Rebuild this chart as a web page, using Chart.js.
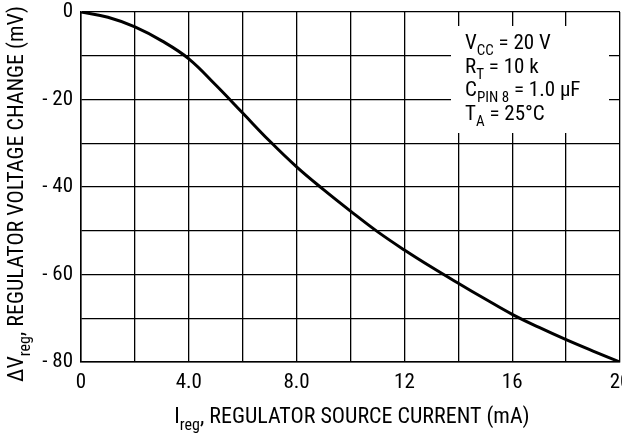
<!DOCTYPE html>
<html>
<head>
<meta charset="utf-8">
<script src="https://cdn.jsdelivr.net/npm/chart.js@4.4.1/dist/chart.umd.min.js"></script>
<style>
  html, body { margin: 0; padding: 0; background: #fff; }
  #wrap { width: 622px; height: 434px; position: relative; }
</style>
</head>
<body>
<div id="wrap"><canvas id="reg_chart" width="622" height="434"></canvas></div>
<script>
// regulator source current (mA)
const currentMA = [0, 1, 2, 3, 4, 5, 6, 7, 8, 9, 10, 11, 12, 13, 14, 15, 16, 17, 18, 19, 20];
// regulator voltage change (mV)
const deltaVmV = [0, -1.2, -3.4, -6.6, -10.7, -16.7, -23.1, -29.5, -35.4, -40.6, -45.5,
                  -50.2, -54.4, -58.3, -62, -65.6, -69.1, -72.1, -74.9, -77.5, -80];
// tick labels, one per grid line (every 2 mA / every 10 mV)
const xTickLabels = ['0', '', '4.0', '', '8.0', '', '12', '', '16', '', '20'];
const yTickLabels = ['0', '', '- 20', '', '- 40', '', '- 60', '', '- 80'];

const FONT = "'Liberation Sans Narrow', 'Arial Narrow', 'Roboto Condensed', sans-serif";

// draws text with subscript parts, parts = [[text, isSub], ...]
function drawRich(ctx, parts, x, y, size, align) {
    const subSize = Math.round(size * 0.72);
    let total = 0;
    parts.forEach(p => {
        ctx.font = (p[1] ? subSize : size) + 'px ' + FONT;
        total += ctx.measureText(p[0]).width;
    });
    let cx = x;
    if (align === 'center') cx = x - total / 2;
    parts.forEach(p => {
        ctx.font = (p[1] ? subSize : size) + 'px ' + FONT;
        ctx.fillText(p[0], cx, p[1] ? y + size * 0.3 : y);
        cx += ctx.measureText(p[0]).width;
    });
}

const notes = [
    [['V'], ['CC', true], [' = 20 V']],
    [['R'], ['T', true], [' = 10 k']],
    [['C'], ['PIN 8', true], [' = 1.0 \u03bcF']],
    [['T'], ['A', true], [' = 25\u00b0C']]
];

const textPlugin = {
    id: 'textPlugin',
    beforeDatasetsDraw(chart) {
        const ctx = chart.ctx;
        ctx.save();
        // white box behind the conditions
        ctx.fillStyle = '#fff';
        ctx.fillRect(451, 26, 158, 107);
        ctx.fillStyle = '#000';
        ctx.textBaseline = 'alphabetic';
        notes.forEach((line, i) => {
            drawRich(ctx, line, 465, 49 + i * 23.5, 21, 'left');
        });
        ctx.restore();
    },
    afterDraw(chart) {
        const ctx = chart.ctx;
        ctx.save();
        ctx.fillStyle = '#000';
        ctx.textBaseline = 'alphabetic';
        drawRich(ctx, [['I'], ['reg', true], [', REGULATOR SOURCE CURRENT (mA)']], 352, 423, 22, 'center');
        ctx.translate(23, 194);
        ctx.rotate(-Math.PI / 2);
        drawRich(ctx, [['\u0394V'], ['reg', true], [', REGULATOR VOLTAGE CHANGE (mV)']], 0, 0, 22, 'center');
        ctx.restore();
    }
};

new Chart('reg_chart', {
    type: 'line',
    data: {
        datasets: [{
            data: currentMA.map((x, i) => ({ x: x, y: deltaVmV[i] })),
            borderColor: '#000',
            borderWidth: 3,
            pointRadius: 0,
            fill: false,
            tension: 0.4
        }]
    },
    options: {
        responsive: false,
        animation: false,
        layout: { padding: { top: 12, right: 2, left: 0, bottom: 0 } },
        plugins: { legend: { display: false }, tooltip: { enabled: false } },
        scales: {
            x: {
                type: 'linear',
                min: 0,
                max: 20,
                afterFit(s) { s.height = 72; s.paddingLeft = 0; s.paddingRight = 0; },
                afterBuildTicks(s) { s.ticks = xTickLabels.map((l, i) => ({ value: i * 2 })); },
                ticks: {
                    autoSkip: false,
                    maxRotation: 0,
                    padding: 8,
                    color: '#000',
                    font: { family: FONT, size: 21 },
                    callback: (v, i) => xTickLabels[i]
                },
                grid: { color: '#000', lineWidth: 1.3, drawTicks: false },
                border: { color: '#000', width: 1.5 }
            },
            y: {
                type: 'linear',
                min: -80,
                max: 0,
                afterFit(s) { s.width = 81; s.paddingTop = 0; s.paddingBottom = 0; },
                afterBuildTicks(s) { s.ticks = yTickLabels.map((l, i) => ({ value: -i * 10 })); },
                ticks: {
                    autoSkip: false,
                    padding: 8,
                    color: '#000',
                    font: { family: FONT, size: 21 },
                    callback: (v, i) => yTickLabels[i]
                },
                grid: { color: '#000', lineWidth: 1.3, drawTicks: false },
                border: { color: '#000', width: 1.5 }
            }
        }
    },
    plugins: [textPlugin]
});
</script>
</body>
</html>
